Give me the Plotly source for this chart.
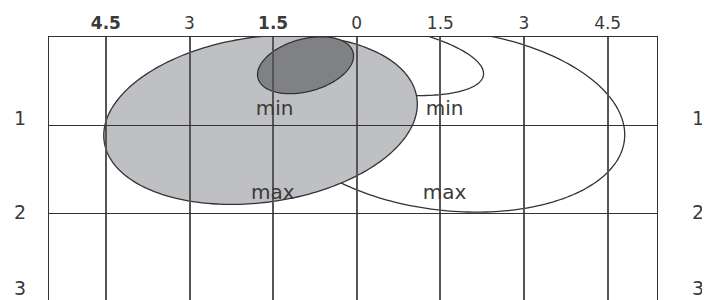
import numpy as np
import plotly.graph_objects as go

# ---- axis / grid values ----
x_tick_vals = [-4.5, -3, -1.5, 0, 1.5, 3, 4.5]
x_tick_text = ["<b>4.5</b>", "3", "<b>1.5</b>", "0", "1.5", "3", "4.5"]
row_grid = [1, 2]
row_labels = ["1", "2", "3"]
row_label_y = [0.915, 1.98, 2.84]

# ---- ellipses: centre, half-width, y-offset of rightmost point, vertical half-thickness ----
ellipse_names = ["outer", "loop", "grey", "dark"]
ellipse_cx = [1.665, 0.30, -1.726, -0.919]
ellipse_cy = [0.949, 0.24, 0.9375, 0.320]
ellipse_w = [3.141, 1.974, 2.812, 0.861]
ellipse_tilt = [0.159, 0.175, -0.178, -0.105]
ellipse_b = [1.023, 0.386, 0.943, 0.305]
ellipse_fill = ["#ffffff", "#ffffff", "#bfc0c4", "#808185"]

# ---- text labels ----
text_labels = ["min", "max", "min", "max"]
text_x = [-1.475, -1.506, 1.576, 1.576]
text_y = [0.827, 1.782, 0.827, 1.782]

FONT = "DejaVu Sans"
INK = "#333333"


def ellipse_path(cx, cy, w, tilt, b, n=240):
    t = np.linspace(0, 2 * np.pi, n, endpoint=False)
    xs = cx + w * np.cos(t)
    ys = cy + tilt * np.cos(t) + b * np.sin(t)
    pts = [f"{x:.4f},{y:.4f}" for x, y in zip(xs, ys)]
    return "M " + " L ".join(pts) + " Z"


shapes = []
for cx, cy, w, tl, b, fc in zip(ellipse_cx, ellipse_cy, ellipse_w, ellipse_tilt, ellipse_b, ellipse_fill):
    shapes.append(dict(
        type="path", xref="x", yref="y", layer="below",
        path=ellipse_path(cx, cy, w, tl, b),
        fillcolor=fc, line=dict(color=INK, width=1.3),
    ))

fig = go.Figure()
fig.add_trace(go.Scatter(
    x=text_x, y=text_y, text=text_labels, mode="text",
    textposition="middle center",
    textfont=dict(family=FONT, size=20, color="#3a3a3a"),
    hoverinfo="skip", showlegend=False,
))

annotations = []
for lab, yv in zip(row_labels, row_label_y):
    for xp in (-0.0477, 1.0674):
        annotations.append(dict(
            x=xp, y=yv, xref="paper", yref="y", text=lab, showarrow=False,
            xanchor="center", yanchor="middle",
            font=dict(family=FONT, size=19, color="#3a3a3a"),
        ))

# the page body adds an 8 px offset, so the figure is 8 px smaller than the window
fig.update_layout(
    width=702, height=292,
    margin=dict(l=41, r=53, t=29, b=0, pad=0),
    paper_bgcolor="white", plot_bgcolor="white",
    shapes=shapes, annotations=annotations,
    showlegend=False,
    xaxis=dict(
        range=[-5.52, 5.385], side="top",
        tickmode="array", tickvals=x_tick_vals, ticktext=x_tick_text,
        ticks="", showgrid=True, gridcolor="#555555", gridwidth=1.5,
        showline=True, linecolor=INK, linewidth=1.2, mirror=False,
        zeroline=False, fixedrange=True,
        tickfont=dict(family=FONT, size=17, color="#3a3a3a"),
    ),
    yaxis=dict(
        range=[2.98, 0], tickmode="array", tickvals=row_grid,
        showticklabels=False, ticks="",
        showgrid=True, gridcolor=INK, gridwidth=1.2,
        showline=True, linecolor=INK, linewidth=1.2, mirror=True,
        zeroline=False, fixedrange=True,
    ),
)

fig.write_html("out.html")
